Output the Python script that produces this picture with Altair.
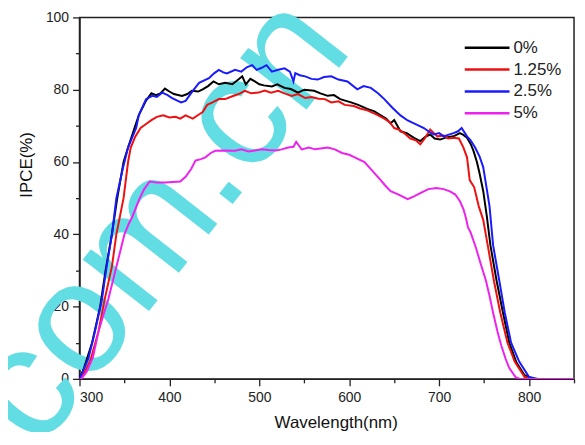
import altair as alt
import pandas as pd

# ---- data ----
series_names = ["0%", "1.25%", "2.5%", "5%"]
series_colors = ["#000000", "#ee1111", "#1a1aff", "#ee22ee"]

wl_0 = [300, 305, 314, 323, 329, 336, 342, 349, 354, 362,
        366, 374, 380, 385, 390, 395, 400, 405, 414, 420,
        425, 432, 437, 443, 449, 455, 462, 470, 476, 481,
        485, 490, 495, 500, 505, 514, 520, 528, 535, 543,
        550, 561, 568, 576, 583, 590, 602, 610, 620, 628,
        635, 641, 646, 650, 657, 664, 672, 679, 685, 690,
        695, 701, 708, 716, 723, 727, 731, 735, 738, 742,
        745, 749, 753, 757, 764, 771, 778, 786, 795, 805, 850]
ipce_0 = [0, 3, 10, 20, 30, 40, 50, 60, 64, 70,
          73, 77, 79, 78.5, 79, 80.3, 79.5, 78.8, 78.3, 78.8,
          79.7, 79.5, 80.1, 81, 82.3, 81.5, 81.9, 81.5, 82.7, 83.7,
          81.5, 83, 82.3, 81.5, 81.2, 80.9, 81.5, 80.5, 80.2, 79.2,
          80, 79.7, 79, 78.3, 78.5, 77.4, 76.5, 75.8, 74.7, 74,
          72.9, 72, 70.7, 71.6, 68.5, 68, 66.7, 65.8, 67, 67.6,
          66.5, 66.2, 66.8, 67.1, 68, 67.5, 66.7, 65, 63.2, 60,
          56.8, 52, 45, 37, 27, 18.3, 10, 4.5, 1, 0, 0]

wl_1 = [300, 306, 312, 321, 328, 336, 341, 349, 354, 357,
        362, 368, 374, 380, 386, 393, 400, 407, 412, 418,
        426, 432, 437, 442, 448, 455, 462, 470, 477, 484,
        491, 499, 506, 513, 521, 528, 536, 543, 551, 558,
        566, 573, 580, 588, 595, 605, 612, 620, 630, 639,
        645, 650, 655, 661, 668, 674, 679, 684, 690, 698,
        705, 710, 716, 722, 727, 731, 734, 739, 744, 749,
        754, 761, 768, 776, 784, 795, 805, 850]
ipce_1 = [0, 2, 5, 13, 22, 31, 40, 50, 60, 64,
          67, 69.4, 70.5, 71.6, 72.5, 72.9, 72.3, 72.5, 72, 72.9,
          72, 73, 73.8, 75.8, 76.5, 77.4, 77.4, 78.2, 78.8, 79.7,
          79, 79.2, 79.8, 79.2, 79.7, 79, 78.3, 78.8, 77.7, 78,
          77.5, 77.4, 76.5, 76.8, 75.8, 75.5, 74.8, 74.3, 73.2, 72,
          71, 69.4, 69, 68, 66.5, 66, 64.9, 66.5, 69, 67.1,
          67.3, 66.5, 66.7, 66.5, 64, 61.3, 55, 53, 47.8, 44,
          37, 27, 18.3, 10, 4.8, 0.5, 0, 0]

wl_2 = [300, 304, 310, 317, 325, 330, 336, 341, 348, 354,
        363, 366, 374, 381, 386, 392, 398, 403, 413, 418,
        426, 433, 444, 450, 455, 460, 464, 473, 480, 486,
        492, 497, 502, 508, 514, 521, 528, 534, 538, 540,
        545, 551, 558, 565, 572, 580, 588, 598, 609, 616,
        624, 632, 639, 648, 657, 665, 672, 683, 688, 694,
        700, 705, 710, 716, 721, 725, 731, 735, 740, 745,
        749, 752, 756, 760, 767, 773, 780, 789, 800, 810, 850]
ipce_2 = [0, 2.2, 5.7, 12.9, 22, 30.8, 39.8, 50, 58, 64,
          69.4, 73, 77.4, 78.3, 78, 79.2, 78.5, 77.7, 76.5, 76.9,
          79.7, 81.9, 83.2, 84.6, 85.5, 84.8, 84.5, 85.5, 85, 86.2,
          86.8, 85.5, 86, 86.8, 85, 85.5, 85.9, 85, 82.3, 84.6,
          84, 83.7, 83, 82.8, 83.5, 83.7, 82.8, 82.3, 80.1, 81,
          80.5, 79, 77.4, 75, 72.9, 71.5, 70.7, 69.4, 68.5, 67.6,
          68, 67.1, 67.5, 68, 68.5, 69.4, 67.1, 66, 64, 61.5,
          58.6, 54, 47.8, 37, 27, 18.3, 10, 4.8, 0.5, 0, 0]

wl_3 = [300, 302, 308, 315, 321, 327, 332, 337, 341, 346,
        350, 355, 359, 363, 367, 372, 378, 386, 395, 404,
        412, 418, 424, 429, 435, 440, 446, 451, 460, 473,
        480, 488, 495, 503, 510, 518, 525, 532, 538, 541,
        547, 555, 562, 570, 576, 584, 592, 600, 606, 617,
        626, 635, 640, 646, 655, 665, 672, 679, 688, 697,
        705, 712, 718, 723, 727, 730, 732, 735, 741, 746,
        752, 756, 760, 765, 769, 774, 778, 785, 790, 850]
ipce_3 = [0, 0, 2, 6, 13, 18, 22, 27, 31, 36,
          40, 43, 45, 47.5, 50, 52.5, 54.6, 54.3, 54.3, 54.5,
          54.6, 55.9, 58, 60.4, 60.8, 61.3, 62.5, 63.1, 63.2, 63.1,
          63.5, 62.9, 63.2, 63.5, 63.3, 63.2, 63.5, 64, 64.2, 65.6,
          63.5, 64, 63.5, 63.8, 64, 63.5, 62.5, 62, 61.3, 60,
          57.5, 55, 53.5, 51.9, 51, 49.7, 50.5, 51.4, 52.5, 52.8,
          52.5, 51.9, 51, 49.2, 47, 44.3, 42, 40.5, 36.2, 32,
          27.2, 23, 18.3, 13, 9.3, 5.5, 3, 0.5, 0, 0]

x_major = [300, 400, 500, 600, 700, 800]
x_minor = [350, 450, 550, 650, 750, 850]
y_major = [0, 20, 40, 60, 80, 100]
y_minor = [10, 30, 50, 70, 90]

watermark_text = ["com.cn"]

# ---- build table ----
frames = []
for name, wl, v in zip(series_names, [wl_0, wl_1, wl_2, wl_3],
                       [ipce_0, ipce_1, ipce_2, ipce_3]):
    frames.append(pd.DataFrame({"wl": wl, "ipce": v, "series": name}))
df = pd.concat(frames, ignore_index=True)

xscale = alt.Scale(domain=[300, 850], nice=False, zero=False)
yscale = alt.Scale(domain=[0, 100], nice=False, zero=False)

wm = alt.Chart(pd.DataFrame({"t": watermark_text})).mark_text(
    angle=308, fontSize=160, font="Liberation Sans", color="#62dde4",
    align="center", baseline="middle"
).encode(text="t:N", x=alt.value(80), y=alt.value(205))

minor = alt.Chart(df).mark_point(opacity=0).encode(
    x=alt.X("wl:Q", scale=xscale,
            axis=alt.Axis(values=x_minor, labels=False, tickSize=4, domain=False,
                          title=None, orient="bottom", grid=False)),
    y=alt.Y("ipce:Q", scale=yscale,
            axis=alt.Axis(values=y_minor, labels=False, tickSize=4, domain=False,
                          title=None, orient="left", grid=False)),
)

lines = alt.Chart(df).mark_line(strokeWidth=2, clip=True).encode(
    x=alt.X("wl:Q", scale=xscale,
            axis=alt.Axis(values=x_major, title="Wavelength(nm)", orient="bottom",
                          tickSize=7, labelPadding=5, grid=False,
                          titleX=258, titleY=44, titleBaseline="middle")),
    y=alt.Y("ipce:Q", scale=yscale,
            axis=alt.Axis(values=y_major, title="IPCE(%)", orient="left",
                          tickSize=7, labelPadding=4, grid=False,
                          titleX=-53, titleY=148, titleBaseline="middle",
                          titleAlign="center")),
    color=alt.Color("series:N",
                    scale=alt.Scale(domain=series_names, range=series_colors),
                    legend=alt.Legend(title=None, orient="none", legendX=402, legendY=22,
                                      symbolType="M-4,0H4", symbolSize=127,
                                      symbolStrokeWidth=2.5, labelFontSize=17,
                                      labelOffset=18, rowPadding=4, padding=0,
                                      labelFont="Liberation Sans", labelColor="#222")),
)

chart = alt.layer(wm, minor, lines).resolve_axis(
    x="independent", y="independent"
).properties(
    width=498, height=364,
    autosize=alt.AutoSizeParams(type="none"),
    padding={"left": 72, "top": 8, "right": 3, "bottom": 52},
).configure_view(
    stroke="#222", strokeWidth=1.5
).configure_axis(
    domainColor="#222", domainWidth=1.5, tickColor="#222", tickWidth=1.3,
    labelColor="#222", labelFont="Liberation Sans", labelFontSize=14,
    titleColor="#111", titleFont="Liberation Sans", titleFontSize=17,
    titleFontWeight="normal",
)

chart.save("out.html", embed_options={"renderer": "svg", "actions": False})
